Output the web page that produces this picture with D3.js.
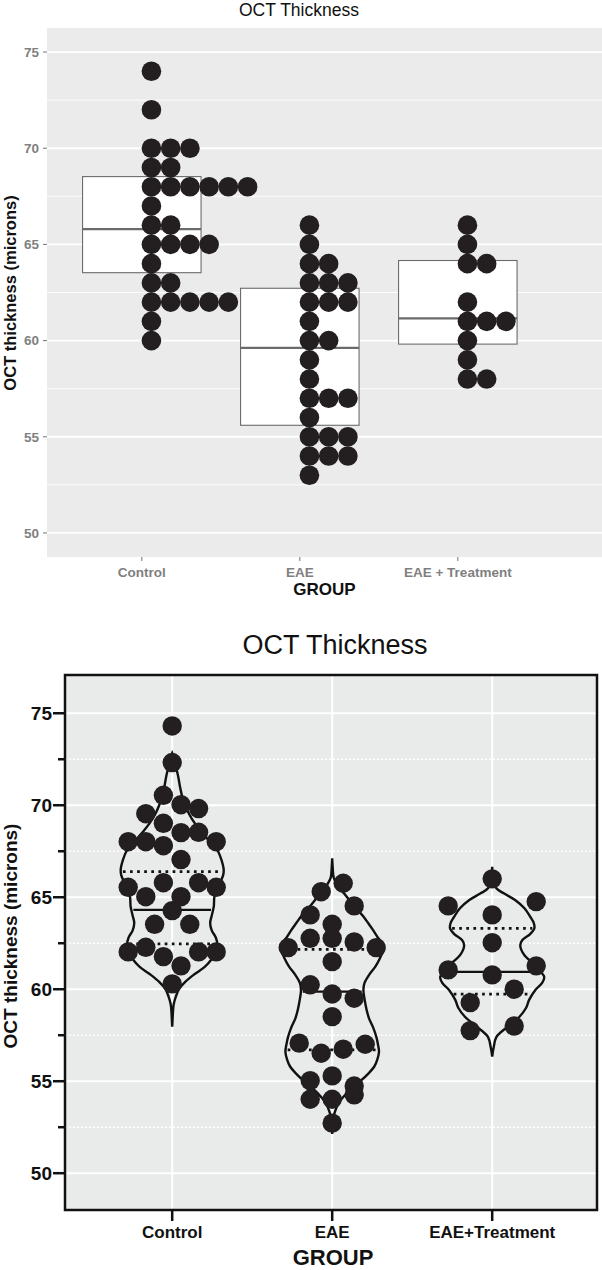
<!DOCTYPE html>
<html><head><meta charset="utf-8">
<script src="https://cdn.jsdelivr.net/npm/d3@7"></script>
<style>body{margin:0;background:#fff}svg{display:block;font-family:"Liberation Sans",Arial,Helvetica,sans-serif}</style>
</head><body><svg id="c" width="602" height="1270"></svg>
<script>
// ---------------- data ----------------
const categories = ["Control", "EAE", "EAE+Treatment"];
const topCategoryLabels = ["Control", "EAE", "EAE + Treatment"];
const yTicks = [50, 55, 60, 65, 70, 75];
const yMinorTicks = [52.5, 57.5, 62.5, 67.5, 72.5];

// measured thickness (bottom panel points; also feed the top box plots)
const controlValues = [74.31, 72.32, 69.54, 70.54, 70.03, 69.82, 68.02, 68.02, 69.02, 68.51, 68.53, 68.02,
  67.80, 67.05, 65.54, 65.03, 65.79, 65.03, 65.79, 65.54, 63.53, 64.27, 63.53,
  62.03, 62.28, 61.77, 61.27, 62.03, 62.03, 60.29];
const eaeValues = [65.30, 65.76, 64.04, 63.53, 64.53, 62.26, 62.77, 62.77, 62.57, 62.26, 61.50,
  60.24, 59.74, 59.51, 58.51, 57.07, 56.52, 56.74, 57.01, 55.03, 55.29, 54.74, 54.02, 54.02, 54.26, 52.72];
const treatmentValues = [66.00, 64.53, 64.04, 64.76, 62.53, 61.05, 60.78, 61.27, 59.27, 60.00, 57.75, 58.00];

// top panel: binned dot-plot values
const controlBinned = [74, 72, 70, 70, 70, 69, 69, 68, 68, 68, 68, 68, 68, 67, 66, 66, 65, 65, 65, 65, 64, 63, 63, 62, 62, 62, 62, 62, 61, 60];
const eaeBinned = [66, 65, 64, 64, 63, 63, 63, 62, 62, 62, 61, 60, 60, 59, 58, 57, 57, 57, 56, 55, 55, 55, 54, 54, 54, 53];
const treatmentBinned = [66, 65, 64, 64, 62, 61, 61, 61, 60, 59, 58, 58];

// violin outlines (level, relative density)
const controlViolinLevels = [72.83, 72.5, 72, 71.5, 71, 70.5, 70, 69.5, 69, 68.5, 68, 67.5, 67, 66.5, 66.2, 65.8, 65.4, 65, 64.5, 64, 63.6, 63.2, 62.8, 62.4, 62, 61.6, 61.2, 60.8, 60.4, 60, 59.6, 59.2, 58.8, 58.4, 57.97];
const controlViolinDensity = [0, .04, .08, .12, .15, .19, .25, .33, .44, .58, .73, .88, .95, .99, .98, .92, .85, .81, .80, .76, .73, .76, .84, .87, .83, .75, .62, .42, .25, .13, .07, .03, .015, .008, 0];
const eaeViolinLevels = [67.12, 66.6, 66.05, 65.67, 65.2, 64.85, 64.4, 63.95, 63.6, 63.2, 62.8, 62.5, 62.14, 61.7, 61.23, 60.78, 60.33, 59.96, 59.5, 58.9, 58.4, 57.9, 57.4, 57.0, 56.6, 56.2, 55.8, 55.4, 55.0, 54.6, 54.2, 53.8, 53.4, 53.0, 52.6, 52.13];
const eaeViolinDensity = [0, .01, .03, .10, .23, .33, .46, .60, .69, .79, .88, .96, .98, .92, .83, .71, .62, .60, .62, .66, .71, .79, .85, .88, .90, .87, .81, .69, .54, .37, .23, .12, .06, .02, .008, 0];
const treatmentViolinLevels = [66.66, 66.0, 65.49, 65.2, 64.85, 64.4, 63.95, 63.6, 63.3, 63.0, 62.68, 62.4, 62.14, 61.85, 61.59, 61.3, 60.99, 60.67, 60.34, 59.96, 59.42, 58.98, 58.49, 57.95, 57.4, 56.86, 56.6, 56.34];
const treatmentViolinDensity = [0, .02, .08, .23, .44, .62, .73, .80, .81, .73, .58, .54, .56, .62, .71, .83, .92, 1.0, .96, .83, .71, .65, .52, .29, .08, .03, .013, 0];
const violinMedian = [64.31, 59.87, 60.94];
const violinQ1 = [62.46, 56.70, 59.73];
const violinQ3 = [66.39, 62.17, 63.31];

// ---------------- layout ----------------
const svg = d3.select("#c");
const groupsValues = [controlValues, eaeValues, treatmentValues];
const groupsBinned = [controlBinned, eaeBinned, treatmentBinned];
const violins = [
  {levels: controlViolinLevels, dens: controlViolinDensity},
  {levels: eaeViolinLevels, dens: eaeViolinDensity},
  {levels: treatmentViolinLevels, dens: treatmentViolinDensity}
];
const dotColor = "#231f20";

// ===== TOP PANEL (ggplot-like) =====
const T = {x0: 47, x1: 602, y0: 28, y1: 557};
const xT = d3.scaleLinear().domain([-0.6, 2.9125]).range([T.x0, T.x1]);
const yT = d3.scaleLinear().domain([48.75, 76.25]).range([T.y1, T.y0]);
const gT = svg.append("g");
gT.append("rect").attr("x", T.x0).attr("y", T.y0).attr("width", T.x1 - T.x0).attr("height", T.y1 - T.y0).attr("fill", "#ebebeb");
gT.selectAll("line.minor").data(yMinorTicks).join("line")
  .attr("x1", T.x0).attr("x2", T.x1).attr("y1", d => yT(d)).attr("y2", d => yT(d))
  .attr("stroke", "#fff").attr("stroke-width", 0.9);
gT.selectAll("line.major").data(yTicks).join("line")
  .attr("x1", T.x0).attr("x2", T.x1).attr("y1", d => yT(d)).attr("y2", d => yT(d))
  .attr("stroke", "#fff").attr("stroke-width", 1.8);

// boxes
const boxW = xT(0.375) - xT(0);
groupsValues.forEach((vals, i) => {
  const s = vals.slice().sort(d3.ascending);
  const q1 = d3.quantile(s, 0.25), med = d3.quantile(s, 0.5), q3 = d3.quantile(s, 0.75);
  const cx = xT(i);
  gT.append("rect").attr("x", cx - boxW).attr("y", yT(q3)).attr("width", 2 * boxW).attr("height", yT(q1) - yT(q3))
    .attr("fill", "#fff").attr("stroke", "#6b6b6b").attr("stroke-width", 1.1);
  gT.append("line").attr("x1", cx - boxW).attr("x2", cx + boxW).attr("y1", yT(med)).attr("y2", yT(med))
    .attr("stroke", "#6b6b6b").attr("stroke-width", 2.2);
});
// dotplot
const dT = yT(0) - yT(1);
groupsBinned.forEach((vals, i) => {
  const counts = d3.rollups(vals, v => v.length, d => d);
  const pts = [];
  counts.forEach(([v, n]) => { for (let k = 0; k < n; k++) pts.push({v, k}); });
  gT.append("g").selectAll("circle").data(pts).join("circle")
    .attr("cx", d => xT(i) + (d.k + 0.5) * dT).attr("cy", d => yT(d.v)).attr("r", dT * 0.51)
    .attr("fill", dotColor);
});
// axes
gT.selectAll("line.yt").data(yTicks).join("line")
  .attr("x1", T.x0 - 4).attr("x2", T.x0).attr("y1", d => yT(d)).attr("y2", d => yT(d))
  .attr("stroke", "#7f7f7f").attr("stroke-width", 1.1);
gT.selectAll("text.yt").data(yTicks).join("text")
  .attr("x", T.x0 - 8).attr("y", d => yT(d)).attr("dy", "0.36em").attr("text-anchor", "end")
  .attr("font-size", 13.5).attr("font-weight", "bold").attr("fill", "#7f7f7f").text(d => d);
gT.selectAll("line.xt").data(topCategoryLabels).join("line")
  .attr("x1", (d, i) => xT(i)).attr("x2", (d, i) => xT(i)).attr("y1", T.y1).attr("y2", T.y1 + 4)
  .attr("stroke", "#7f7f7f").attr("stroke-width", 1.1);
gT.selectAll("text.xt").data(topCategoryLabels).join("text")
  .attr("x", (d, i) => xT(i)).attr("y", 577).attr("text-anchor", "middle")
  .attr("font-size", 13.5).attr("font-weight", "bold").attr("fill", "#7f7f7f").text(d => d);
gT.append("text").attr("x", (T.x0 + T.x1) / 2).attr("y", 595).attr("text-anchor", "middle")
  .attr("font-size", 17).attr("font-weight", "bold").attr("fill", "#111").text("GROUP");
gT.append("text").attr("transform", "translate(16,293) rotate(-90)").attr("text-anchor", "middle")
  .attr("font-size", 16.5).attr("font-weight", "bold").attr("fill", "#111").text("OCT thickness (microns)");
gT.append("text").attr("x", 239).attr("y", 16).attr("font-size", 17.5).attr("fill", "#111").text("OCT Thickness");

// ===== BOTTOM PANEL (Prism-like) =====
const B = {x0: 65, x1: 597, y0: 675, y1: 1210};
const xB = d3.scaleLinear().domain([-0.67, 2.655]).range([B.x0, B.x1]);
const yB = d3.scaleLinear().domain([48.0, 77.08]).range([B.y1, B.y0]);
const gB = svg.append("g");
gB.append("rect").attr("x", B.x0).attr("y", B.y0).attr("width", B.x1 - B.x0).attr("height", B.y1 - B.y0).attr("fill", "#e9ebea");
gB.selectAll("line.minor").data(yMinorTicks).join("line")
  .attr("x1", B.x0).attr("x2", B.x1).attr("y1", d => yB(d)).attr("y2", d => yB(d))
  .attr("stroke", "#fff").attr("stroke-width", 1.6).attr("stroke-dasharray", "2,2");
gB.selectAll("line.major").data(yTicks).join("line")
  .attr("x1", B.x0).attr("x2", B.x1).attr("y1", d => yB(d)).attr("y2", d => yB(d))
  .attr("stroke", "#fff").attr("stroke-width", 2);
gB.selectAll("line.vg").data(categories).join("line")
  .attr("x1", (d, i) => xB(i)).attr("x2", (d, i) => xB(i)).attr("y1", B.y0).attr("y2", B.y1)
  .attr("stroke", "#fff").attr("stroke-width", 2);

// violins
const wScale = d3.scaleLinear().domain([0, 1]).range([0, 52]);
violins.forEach((vl, i) => {
  const cx = xB(i);
  const pts = vl.levels.map((l, k) => ({l, d: vl.dens[k]}));
  const area = d3.area().x0(d => cx - wScale(d.d)).x1(d => cx + wScale(d.d)).y(d => yB(d.l)).curve(d3.curveCatmullRom);
  gB.append("path").attr("d", area(pts)).attr("fill", "none").attr("stroke", "#111").attr("stroke-width", 2.4);
  const densAt = d3.scaleLinear().domain(vl.levels).range(vl.dens);
  const seg = (v, dashed) => {
    const h = wScale(densAt(v)) - 2;
    gB.append("line").attr("x1", cx - h).attr("x2", cx + h).attr("y1", yB(v)).attr("y2", yB(v))
      .attr("stroke", "#111").attr("stroke-width", dashed ? 2.7 : 2.2)
      .attr("stroke-dasharray", dashed ? "2.7,4.4" : null);
  };
  seg(violinMedian[i], false);
  seg(violinQ1[i], true);
  seg(violinQ3[i], true);
});

// row-based scatter layout (points binned by value, spread across a fixed width)
function swarmOffsets(values, binH, width) {
  const idx = values.map((v, i) => i).sort((a, b) => values[b] - values[a] || a - b);
  const rows = []; let cur = null;
  idx.forEach(i => {
    if (!cur || values[i] < values[cur[0]] - binH) { cur = [i]; rows.push(cur); } else cur.push(i);
  });
  const maxN = d3.max(rows, r => r.length);
  const step = width / Math.max(1, maxN - 1);
  const off = new Array(values.length);
  rows.forEach(r => {
    const s = r.slice().sort((a, b) => a - b);
    s.forEach((i, k) => { off[i] = (k - (s.length - 1) / 2) * step; });
  });
  return off;
}
groupsValues.forEach((vals, i) => {
  const off = swarmOffsets(vals, 1.02, 88);
  gB.append("g").selectAll("circle").data(vals).join("circle")
    .attr("cx", (d, k) => xB(i) + off[k]).attr("cy", d => yB(d)).attr("r", 9.7).attr("fill", dotColor);
});

// frame & axes
gB.append("rect").attr("x", B.x0).attr("y", B.y0).attr("width", B.x1 - B.x0).attr("height", B.y1 - B.y0)
  .attr("fill", "none").attr("stroke", "#111").attr("stroke-width", 2.5);
gB.selectAll("line.yt").data(yTicks).join("line")
  .attr("x1", B.x0 - 12).attr("x2", B.x0).attr("y1", d => yB(d)).attr("y2", d => yB(d))
  .attr("stroke", "#111").attr("stroke-width", 2.5);
gB.selectAll("line.ymt").data(yMinorTicks).join("line")
  .attr("x1", B.x0 - 7).attr("x2", B.x0).attr("y1", d => yB(d)).attr("y2", d => yB(d))
  .attr("stroke", "#111").attr("stroke-width", 2.5);
gB.selectAll("text.yt").data(yTicks).join("text")
  .attr("x", B.x0 - 13).attr("y", d => yB(d)).attr("dy", "0.36em").attr("text-anchor", "end")
  .attr("font-size", 19).attr("font-weight", "bold").attr("fill", "#111").text(d => d);
gB.selectAll("line.xt").data(categories).join("line")
  .attr("x1", (d, i) => xB(i)).attr("x2", (d, i) => xB(i)).attr("y1", B.y1).attr("y2", B.y1 + 11)
  .attr("stroke", "#111").attr("stroke-width", 2.5);
gB.selectAll("text.xt").data(categories).join("text")
  .attr("x", (d, i) => xB(i)).attr("y", 1238).attr("text-anchor", "middle")
  .attr("font-size", 17).attr("font-weight", "bold").attr("fill", "#111").text(d => d);
gB.append("text").attr("x", 333).attr("y", 1265).attr("text-anchor", "middle")
  .attr("font-size", 22).attr("font-weight", "bold").attr("fill", "#111").text("GROUP");
gB.append("text").attr("transform", "translate(17,936) rotate(-90)").attr("text-anchor", "middle")
  .attr("font-size", 19).attr("font-weight", "bold").attr("fill", "#111").text("OCT thickness (microns)");
gB.append("text").attr("x", 335).attr("y", 654).attr("text-anchor", "middle")
  .attr("font-size", 27).attr("fill", "#111").text("OCT Thickness");
</script></body></html>
